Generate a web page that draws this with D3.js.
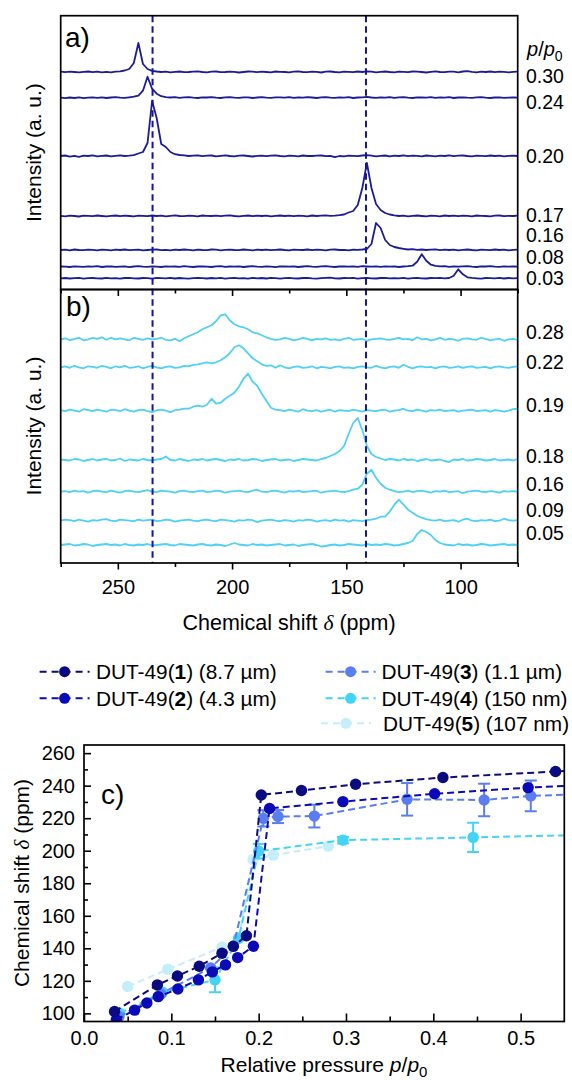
<!DOCTYPE html>
<html>
<head>
<meta charset="utf-8">
<script src="https://cdn.jsdelivr.net/npm/d3@7/dist/d3.min.js"></script>
<style>
body { margin: 0; background: #fff; }
svg text { font-family: "Liberation Sans", Arial, sans-serif; fill: #000; }
</style>
</head>
<body>
<div id="fig"></div>
<script>
// spectra are sampled every 2 ppm, from 275 ppm down to 75 ppm (101 points)
const ppmGrid = d3.range(275, 74, -2);

// dashed reference shifts (ppm) drawn across panels a and b
const refShifts = [234.8, 141.4];

// panel a) DUT-49(1), p/p0 labels and stacking offsets (a. u.)
const labelsA = ['0.30', '0.24', '0.20', '0.17', '0.16', '0.08', '0.03'];
const offsetsA = [217.5, 191.8, 133.5, 73.5, 39.5, 22.8, 11.2];
const specA030 = [
  0.3,-0.2,0.4,0,-0.4,0.2,0.5,-0.1,0.3,-0.3,
  0.2,-0.4,0.3,0.6,1.5,3,9,29,8,3,
  1.2,0.5,0,0.4,-0.3,0.2,0.5,-0.2,0,0.4,
  0.6,0,-0.4,0.3,0.5,-0.2,0,0.4,0.2,-0.5,
  0,0.5,0.3,-0.2,0.4,0,-0.3,0.5,0.2,0,
  -0.4,0.3,0.6,0,-0.2,0.4,0.1,-0.5,0.3,0.5,
  0,-0.3,0.4,0.2,-0.2,0.5,0,0.6,0.3,-0.4,
  0.2,0.5,0,-0.3,0.4,0.1,-0.2,0.5,0.3,0,
  -0.5,0.2,0.6,0,-0.2,0.4,0.3,-0.4,0.5,0.9,
  0.2,-0.3,0.4,0,0.5,-0.2,0.3,0.1,-0.4,0.2,
  0.3];
const specA024 = [
  0,-0.4,0.2,-0.3,0.3,-0.5,0,0.4,-0.2,0.3,
  -0.3,0.2,0.5,0,-0.2,0.4,1,2,7,21,
  9,4,1.5,0.6,0.2,0.5,-0.2,0.3,0.6,0,
  -0.3,0.4,0.2,0.5,0,-0.3,0.4,0.6,0.1,-0.2,
  0.4,0.3,-0.3,0.2,0.5,0,-0.2,0.4,0.3,0,
  0.5,-0.2,0.3,0,0.6,0.2,-0.3,0.3,0.5,0,
  -0.2,0.4,0.1,0.5,-0.3,0.2,0.4,0.8,0.2,-0.2,
  0.4,0,0.5,-0.2,0.3,0.6,0,-0.3,0.4,0.2,
  0,0.5,-0.2,0.3,0.1,0.5,-0.3,0.2,0.4,0,
  -0.2,0.3,0.5,0,-0.3,0.2,0.4,-0.2,0.1,0.3,
  0];
const specA020 = [
  0,0.5,-0.6,0.2,-0.8,0.3,0,0.6,-0.3,0.2,
  0.5,-0.4,0.1,0.6,0,0.3,0.8,2.5,4,13,
  55,38,12,9,4,1.8,1,0.6,0,0.4,
  0.7,-0.2,0.3,0.5,-0.3,0.2,0.6,0,-0.4,0.3,
  0.5,0,-0.5,0.2,0.4,-0.2,0.3,0.6,0,-0.3,
  0.4,0.1,-0.4,0.5,0,0,0.3,0.5,-0.2,0.2,
  -1.2,0,-0.3,0.4,0.2,-0.2,0.5,0.9,0.3,-0.3,
  0.2,0.5,-0.4,0.3,0,0.6,-0.2,0.4,0.1,-0.3,
  0.5,0.2,-0.3,0.4,0,0.6,-0.2,0.3,0.5,0,
  -0.3,0.4,0.2,-0.2,0.5,0,0.3,-0.4,0.2,0.4,
  0];
const specA017 = [
  0.2,-0.3,0.4,0,-0.5,0.3,0.1,-0.2,0.5,0,
  -0.4,0.2,0.5,-0.1,0.3,0,-0.3,0.4,0.2,-0.2,
  0.5,0,0.3,-0.4,0.2,0.6,0,-0.2,0.4,0.1,
  -0.3,0.5,0.2,0,0.4,-0.2,0.3,0.6,0,-0.3,
  0.2,0.5,-0.2,0.4,0,0.3,-0.4,0.2,0.5,0,
  0.3,-0.2,0.4,0.1,-0.3,0.5,0,0.3,0.6,0.2,
  0.4,0.8,1.5,3.5,5,11,28,53,28,12,
  6,3,1.5,0.6,0,0.4,-0.3,0.2,0.5,0,
  -0.4,0.3,0.2,-0.3,0.5,0,0.4,-0.2,0.3,0.1,
  -0.3,0.5,0.2,0,-0.4,0.3,0.5,-0.2,0.2,0,
  0.3];
const specA016 = [
  0,0.3,-0.3,0.5,0,-0.2,0.4,0.2,-0.4,0.3,
  0.1,-0.3,0.4,0,0.5,-0.2,0.2,0.4,-0.3,0,
  0.3,0.5,-0.1,0.2,-0.4,0.3,0,0.5,0.2,-0.3,
  0.4,0,-0.2,0.5,0.3,-0.3,0.2,0.4,0,-0.2,
  0.5,0.1,-0.3,0.3,0,0.4,-0.2,0.2,0.5,0,
  -0.3,0.4,0.2,0,0.5,-0.2,0.3,0.1,-0.4,0.3,
  0.5,0,0.2,-0.3,0.4,0.2,0.5,1,6,27,
  22,10,5,3,2,1.2,0.5,0.8,0.2,0.5,
  0,0.3,0.6,-0.2,0.4,0,0.3,-0.3,0.2,0.5,
  0,-0.3,0.4,0.2,-0.2,0.5,0,0.3,-0.4,0.2,
  0.3];
const specA008 = [
  0.2,0,-0.3,0.4,0.1,-0.2,0.3,0,0.5,-0.3,
  0.2,0.4,-0.2,0,0.3,-0.4,0.2,0.5,0,-0.2,
  0.3,0.1,-0.3,0.4,0,0.2,-0.2,0.5,0.1,-0.3,
  0.2,0.4,0,-0.3,0.3,0.5,-0.1,0.2,0,0.4,
  -0.3,0.2,0.5,0,-0.2,0.3,0.1,-0.4,0.3,0.2,
  0,0.4,-0.3,0.2,0.5,0,-0.2,0.3,0.6,0.1,
  -0.3,0.2,0.4,0,0.3,-0.2,0.5,0.2,0,0.3,
  -0.2,0.4,0.1,0.3,-0.3,0.2,0.5,1,5,12.5,
  6,2,0.8,0.3,0.5,-0.2,0.3,0,0.4,0.6,
  0,-0.3,0.4,0.2,0.5,0,-0.2,0.3,0.1,0.4,
  0];
const specA003 = [
  0,0.3,-0.2,0.2,0.4,-0.3,0.1,0.3,0,-0.2,
  0.4,0,0.2,-0.3,0.3,0.5,0,-0.2,0.3,0.1,
  -0.3,0.4,0.2,0,0.5,-0.2,0.3,0,-0.4,0.2,
  0.5,0.1,-0.2,0.3,0,0.4,-0.3,0.2,0.5,0,
  0.2,-0.3,0.4,0,0.3,-0.2,0.5,0.1,-0.3,0.2,
  0.4,0,-0.2,0.3,0.5,0,-0.3,0.2,0.4,0.6,
  0,-0.2,0.3,0.1,0.4,-0.3,0.2,0.5,0,-0.2,
  0.3,0.4,-0.1,0.2,0,0.5,-0.3,0.2,0.4,0,
  -0.2,0.3,0.1,0.5,0,0.3,2.5,9,4,1,
  0.4,0,-0.3,0.3,0.2,0,0.4,-0.2,0.3,0,
  0.2];

// panel b) DUT-49(4)
const labelsB = ['0.28', '0.22', '0.19', '0.18', '0.16', '0.09', '0.05'];
const offsetsB = [223.7, 195.7, 152.3, 103, 71.3, 42.3, 18];
const specB028 = [
  0,1,-1,0.5,1.5,-1,0,1.5,0.5,2,
  -0.5,1.5,0,1,0,-1,1.5,0.5,-0.5,1,
  0,0.5,1.5,-0.5,-1,0.5,-2,1,3,5,
  7,10,12,14,18,24,25,19,15,13,
  12,10,7,6,4,2,0.5,-0.5,0,1.5,
  0.5,-1,0,1.5,0.5,-1,0.5,0,1,-0.5,
  0,-1,0.5,1.5,-0.5,0,0.5,-1.5,0,0.5,
  1,0,-0.5,0.5,1.5,0,0.5,-1,2,0,
  0.5,-1,0,1.5,-0.5,0.5,0,-1.5,0.5,1,
  0,-0.5,1.5,0.5,-1,0,0.5,-1.5,0,0.5,
  -0.5];
const specB022 = [
  0,1,-0.5,1.5,0,-1,1,0.5,-0.5,1.5,
  0.5,-1,1,0,1.5,-0.5,0,1,-1,0.5,
  1.5,0,-1,0.5,1,-0.5,0,1.5,1,2.5,
  3,4,5,4,5,7,10,14,20,22,
  19,14,9,6,3,1.5,2,-0.5,2,0,
  -1,0.5,1,-0.5,0,1,-1,0.5,0,-1,
  0.5,1,-0.5,0,-1,0.5,1,0,-0.5,1.5,
  0,-1,0.5,1,-0.5,2.5,0.5,-1,0.5,1,
  0,0.5,-1,0.5,1,-0.5,0,1,-0.5,0.5,
  1,-0.5,0,0.5,-1,0.5,1,0,-0.5,0.5,
  1];
const specB019 = [
  0.5,-0.5,1,0,-1,1.5,0.5,-0.5,1,0,
  -1,1,0.5,-0.5,1.5,0,-1,0.5,1,-0.5,
  -1.5,0.5,1,0,-1.5,0.5,1,2,2,4,
  5,4,6,12,7,8,12,15,18,24,
  32,37,29,25,17,10,3,1,0.5,-0.5,
  1,0,-1,1.5,0,-0.5,0.5,-1,0,1,
  -1,0.5,0,-0.5,1,0,-1,0.5,0,-0.5,
  0.5,1,-1,0,0.5,2,0,-0.5,1,0,
  -1,0.5,0,1,-0.5,0,0.5,-1,0,0.5,
  1,-0.5,0,0.5,-1,0.5,0,-1,0,1.5,
  2];
const specB018 = [
  0.5,0,-0.5,1,0.5,-1,0,1,-0.5,0.5,
  1,-0.5,0,1.5,-1,0.5,0,-0.5,1,0,
  -0.5,0.5,1,3.5,0,-0.5,1,0,-1,0.5,
  0,1,-0.5,0.5,1,0,-1,0.5,0,1,
  -0.5,0,1,0.5,-1,0,0.5,1,-0.5,0,
  0.5,-1,0,1,0.5,0,-0.5,1,2,4,
  6,9,14,26,37,42,30,14,6,3,
  1.5,0,1,0.5,-0.5,1,0,0.5,-1,0,
  1,-0.5,0,0.5,-1,-2,0.5,0,1,-0.5,
  0,1,0.5,-0.5,0,1,-0.5,0,0.5,-0.5,
  1];
const specB016 = [
  0,0.5,-0.5,1,0,0.5,-1,0.5,1,0,
  -0.5,1,0,-1,0.5,1,0,-0.5,0.5,1.5,
  0,-0.5,1,0.5,0,-1,0.5,1,0,-0.5,
  0.5,1,-0.5,0,1,0.5,-1,0,0.5,1,
  0,-0.5,1,2,0,-0.5,0.5,1,0,-1,
  0.5,0,1,-0.5,0,0.5,1,-1,0,0.5,
  1,0,-0.5,0.5,2,3,7,18,22,14,
  8,4,2,0.5,-0.5,0,1,-0.5,0.5,1,
  0,-1,0.5,0,1,-0.5,0,0.5,-1.5,0,
  0.5,1,0,-0.5,0.5,0,-1,0.5,0,0.5,
  0];
const specB009 = [
  0,1,0.5,-0.5,1,0,-1,0.5,0,1,
  1.5,0,-0.5,1,0.5,0,-0.5,1,0,0.5,
  1,-0.5,0,1,0.5,-1,0,0.5,1,0,
  -0.5,0.5,1,0,-0.5,1,0.5,0,-1,0.5,
  0,1,0.5,-1.5,0,0.5,1,0,-0.5,0.5,
  0,-1,0.5,0,1,0.5,-1,0,0.5,-0.5,
  1,0,0.5,-1,0.5,0,-0.5,0.5,1,2,
  4,4,9,16,21,16,11,8,5,3,
  1.5,0.5,0,1,-0.5,0,0.5,-1,1,2,
  0,-0.5,0.5,0,1,-0.5,0,2,0.5,0,
  0.5];
const specB005 = [
  0,0.5,1,-0.5,0,1,0.5,-1,0,0.5,
  1,0,0.5,-0.5,1,0,-0.5,0.5,0,1,
  -0.5,0,0.5,1,0,-0.5,1,0.5,0,-0.5,
  0.5,1,0,-0.5,0.5,0,-1,0.5,2,0.5,
  0,-0.5,1,0,0.5,-0.5,0,0.5,1,-0.5,
  0,0.5,-1,0,0.5,1,0,-1.5,-1,0,
  0.5,-0.5,0,1,0.5,0,-0.5,1,0,0.5,
  0,1,0.5,-0.5,0,1,2,4,11,15,
  13,10,5,2,0.5,0,-0.5,1,0,0.5,
  -0.5,0,1,0.5,-0.5,0,0.5,1,0,0.5,
  0];

// panel c) chemical shift vs relative pressure, [p/p0, ppm]
const dut1 = [[0.035,101.2],[0.084,117.5],[0.107,123],[0.132,129],[0.158,137],[0.171,141.3],[0.186,147.7],
  [0.203,234.3],[0.249,237],[0.311,240.9],[0.411,245],[0.540,248.7],[0.60,250.3]];
const dut2 = [[0.037,96],[0.058,102],[0.072,106.4],[0.085,110.3],[0.1075,115],[0.131,120.6],[0.147,125.5],
  [0.162,129.8],[0.176,134.3],[0.194,141.3],[0.2125,226],[0.2965,230.2],[0.4015,235],[0.5086,238.8],[0.60,241]];
const dut3 = [[0.04,98],[0.088,112],[0.145,128],[0.171,141.2],[0.2054,219.9],[0.2222,221],[0.2638,221.3],
  [0.370,231.6],[0.4582,231.2],[0.5116,233.7],[0.60,235.3]];
const dut3Err = [0,0,0,0,5,4,7,10,10,9.5,0];
const dut4 = [[0.041,100],[0.09,113],[0.150,120.6],[0.177,146],[0.200,199.7],[0.2965,206.5],[0.4456,208.2],[0.60,210]];
const dut4Err = [0,0,7.6,0,4.5,2,9,0];
const dut5 = [[0.05,116.5],[0.096,127.1],[0.158,140.7],[0.177,146.5],[0.1936,194.6],[0.2167,197.3],[0.2797,202.8]];

const seriesNames = ['1', '2', '3', '4', '5'];
const seriesSizes = ['8.7 µm', '4.3 µm', '1.1 µm', '150 nm', '107 nm'];
const seriesColors = ['#0b0b80', '#0a0ab8', '#5a7ef2', '#43d3f7', '#c4eefa'];

const xTicksC = [0, 0.1, 0.2, 0.3, 0.4, 0.5];
const yTicksC = [100, 120, 140, 160, 180, 200, 220, 240, 260];

// ---------------------------------------------------------------
const svg = d3.select('#fig').append('svg')
    .attr('width', 572)
    .attr('height', 1080);

const xShift = d3.scaleLinear().domain([275, 75]).range([60.7, 517.7]);
const yA = d3.scaleLinear().domain([0, 274]).range([289.5, 15.5]);
const yB = d3.scaleLinear().domain([0, 274]).range([563, 289]);
const xP = d3.scaleLinear().domain([0, 0.55]).range([84, 564.3]);
const yC = d3.scaleLinear().domain([95, 265]).range([1021.5, 745]);

const navy = '#1c1c98';
const cyan = '#4fd0f6';

/**
 * stack of spectra, each one lifted by its offset
 */
function drawStack(spectra, offsets, yScale, color) {
    spectra.forEach((s, k) => {
        const line = d3.line()
            .x((d, i) => xShift(ppmGrid[i]))
            .y(d => yScale(offsets[k] + d));
        svg.append('path')
            .attr('d', line(s))
            .attr('fill', 'none')
            .attr('stroke', color)
            .attr('stroke-width', 1.8)
            .attr('stroke-linejoin', 'round');
    });
}

drawStack([specA030, specA024, specA020, specA017, specA016, specA008, specA003], offsetsA, yA, navy);
drawStack([specB028, specB022, specB019, specB018, specB016, specB009, specB005], offsetsB, yB, cyan);

// dashed reference lines through a and b
svg.selectAll('line.ref')
    .data(refShifts)
    .enter()
    .append('line')
    .attr('x1', d => xShift(d)).attr('x2', d => xShift(d))
    .attr('y1', 15.7).attr('y2', 563)
    .attr('stroke', '#1414a0')
    .attr('stroke-width', 2)
    .attr('stroke-dasharray', '6.5,4');

// frames
svg.append('rect').attr('x', 60.7).attr('y', 15.7).attr('width', 457).attr('height', 273.8)
    .attr('fill', 'none').attr('stroke', '#000').attr('stroke-width', 1.7);
svg.append('rect').attr('x', 60.7).attr('y', 289.5).attr('width', 457).attr('height', 273.5)
    .attr('fill', 'none').attr('stroke', '#000').attr('stroke-width', 1.7);

function styleAxis(g, size) {
    g.select('.domain').remove();
    g.selectAll('.tick line').attr('stroke', '#000').attr('stroke-width', 1.6);
    g.selectAll('.tick text').attr('font-size', size).attr('fill', '#000')
        .attr('font-family', '"Liberation Sans", Arial, sans-serif');
}

// x ticks below a (into b) and below b
[289.5, 563].forEach((y, k) => {
    svg.append('g').attr('transform', `translate(0,${y})`)
        .call(d3.axisBottom(xShift).tickValues([275, 225, 175, 125, 75]).tickSize(4).tickFormat(''))
        .call(g => styleAxis(g, 20));
    const major = d3.axisBottom(xShift).tickValues([250, 200, 150, 100]).tickSize(6.5).tickPadding(10);
    if (k === 0) major.tickFormat('');
    svg.append('g').attr('transform', `translate(0,${y})`)
        .call(major)
        .call(g => styleAxis(g, 20));
});

function label(x, y, size, anchor) {
    return svg.append('text').attr('x', x).attr('y', y)
        .attr('font-size', size).attr('text-anchor', anchor || 'start');
}

// p/p0 labels on the right
const labelYA = [83, 108.7, 163, 222, 242, 263.5, 284.5];
const labelYB = [338.7, 368.7, 412, 462.7, 491, 517, 540];
labelsA.forEach((t, i) => label(526, labelYA[i], 19.5).text(t));
labelsB.forEach((t, i) => label(526, labelYB[i], 19.5).text(t));

const pp = label(527, 56, 20);
pp.append('tspan').attr('font-style', 'italic').text('p');
pp.append('tspan').text('/');
pp.append('tspan').attr('font-style', 'italic').text('p');
pp.append('tspan').attr('dy', 5).attr('font-size', 14).text('0');

label(65, 47, 28).text('a)');
label(66, 316, 28).text('b)');

// y titles
[152.6, 426].forEach(cy => {
    svg.append('text')
        .attr('transform', `translate(41,${cy}) rotate(-90)`)
        .attr('text-anchor', 'middle')
        .attr('font-size', 21)
        .text('Intensity (a. u.)');
});

const xt = label(289, 630, 21.5, 'middle');
xt.append('tspan').text('Chemical shift ');
xt.append('tspan').attr('font-style', 'italic').attr('font-family', '"Liberation Serif", serif').text('δ');
xt.append('tspan').text(' (ppm)');

// ---------------- legend ----------------
const legendPos = [
    {lx: 39.6, y: 671.7, tx: 96}, {lx: 39.6, y: 698.3, tx: 96},
    {lx: 325.6, y: 671.7, tx: 381.4}, {lx: 325.6, y: 698.3, tx: 381.4},
    {lx: 321, y: 723.3, tx: 383}
];
seriesNames.forEach((n, i) => {
    const p = legendPos[i];
    svg.append('line')
        .attr('x1', p.lx).attr('x2', p.lx + 50)
        .attr('y1', p.y).attr('y2', p.y)
        .attr('stroke', seriesColors[i]).attr('stroke-width', 2)
        .attr('stroke-dasharray', '7,5');
    svg.append('circle').attr('cx', p.lx + 25).attr('cy', p.y).attr('r', 5.5)
        .attr('fill', seriesColors[i]);
    const t = label(p.tx, p.y + 7.5, 20.8);
    t.append('tspan').text('DUT-49(');
    t.append('tspan').attr('font-weight', 'bold').text(n);
    t.append('tspan').text(`) (${seriesSizes[i]})`);
});

// ---------------- panel c ----------------
svg.append('clipPath').attr('id', 'clipC')
    .append('rect').attr('x', 84).attr('y', 745).attr('width', 480.3).attr('height', 276.5);

const gC = svg.append('g').attr('clip-path', 'url(#clipC)');
const lineC = d3.line().x(d => xP(d[0])).y(d => yC(d[1]));

const allSeries = [dut1, dut2, dut3, dut4, dut5];
const allErr = [null, null, dut3Err, dut4Err, null];

// palest drawn first, darkest on top
[4, 3, 2, 1, 0].forEach(k => {
    const data = allSeries[k];
    const col = seriesColors[k];
    gC.append('path')
        .attr('d', lineC(data))
        .attr('fill', 'none')
        .attr('stroke', col)
        .attr('stroke-width', 2)
        .attr('stroke-dasharray', '7,4');
    if (allErr[k]) {
        data.forEach((d, i) => {
            const e = allErr[k][i];
            if (!e) return;
            const x = xP(d[0]);
            gC.append('line').attr('x1', x).attr('x2', x)
                .attr('y1', yC(d[1] - e)).attr('y2', yC(d[1] + e))
                .attr('stroke', col).attr('stroke-width', 2);
            [d[1] - e, d[1] + e].forEach(v => {
                gC.append('line').attr('x1', x - 6).attr('x2', x + 6)
                    .attr('y1', yC(v)).attr('y2', yC(v))
                    .attr('stroke', col).attr('stroke-width', 2);
            });
        });
    }
    gC.selectAll(null)
        .data(data)
        .enter()
        .append('circle')
        .attr('cx', d => xP(d[0]))
        .attr('cy', d => yC(d[1]))
        .attr('r', 5.7)
        .attr('fill', col);
});

svg.append('rect').attr('x', 84).attr('y', 745).attr('width', 480.3).attr('height', 276.5)
    .attr('fill', 'none').attr('stroke', '#000').attr('stroke-width', 1.7);

svg.append('g').attr('transform', 'translate(84,0)')
    .call(d3.axisLeft(yC).tickValues(d3.range(110, 261, 20)).tickSizeInner(-4).tickSizeOuter(0).tickFormat(''))
    .call(g => styleAxis(g, 20));
svg.append('g').attr('transform', 'translate(84,0)')
    .call(d3.axisLeft(yC).tickValues(yTicksC).tickSizeInner(-7).tickSizeOuter(0).tickPadding(9))
    .call(g => styleAxis(g, 20));
svg.append('g').attr('transform', 'translate(0,1021.5)')
    .call(d3.axisBottom(xP).tickValues([0.05, 0.15, 0.25, 0.35, 0.45]).tickSizeInner(-5).tickSizeOuter(0).tickFormat(''))
    .call(g => styleAxis(g, 20));
svg.append('g').attr('transform', 'translate(0,1021.5)')
    .call(d3.axisBottom(xP).tickValues(xTicksC).tickSizeInner(-8).tickSizeOuter(0).tickPadding(9.5).tickFormat(d3.format('.1f')))
    .call(g => styleAxis(g, 20));

label(101, 804, 28).text('c)');

const yt = svg.append('text')
    .attr('transform', 'translate(29,883) rotate(-90)')
    .attr('text-anchor', 'middle')
    .attr('font-size', 21);
yt.append('tspan').text('Chemical shift ');
yt.append('tspan').attr('font-style', 'italic').attr('font-family', '"Liberation Serif", serif').text('δ');
yt.append('tspan').text(' (ppm)');

const xc = label(324, 1072, 21, 'middle');
xc.append('tspan').text('Relative pressure ');
xc.append('tspan').attr('font-style', 'italic').text('p');
xc.append('tspan').text('/');
xc.append('tspan').attr('font-style', 'italic').text('p');
xc.append('tspan').attr('dy', 5).attr('font-size', 15).text('0');
</script>
</body>
</html>
